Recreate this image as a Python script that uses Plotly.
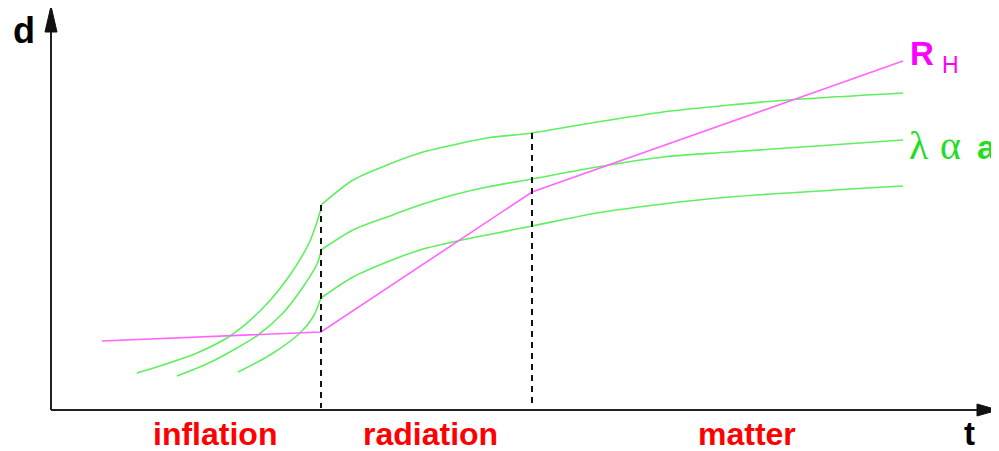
import plotly.graph_objects as go

# ---- data (in canvas units: t to the right, d on a reversed axis) ----
# inflation-era branches of the three wavelength curves
infl1_t = [137, 163, 197, 230, 263, 290, 310, 321]
infl1_d = [373, 365, 353, 336, 308, 275, 241, 209]
infl2_t = [177, 213, 258, 283, 303, 317, 321]
infl2_d = [376, 361, 335, 313, 287, 264, 252]
infl3_t = [238, 270, 300, 313, 321]
infl3_d = [372, 355, 333, 317, 298]

# radiation + matter branches
late1_t = [321, 353, 387, 420, 453, 487, 532, 597, 663, 730, 787, 903]
late1_d = [205, 180, 165, 153, 145, 138, 133, 122, 112, 105, 100, 93]
late2_t = [321, 353, 387, 420, 453, 487, 532, 597, 663, 730, 903]
late2_d = [250, 230, 217, 205, 195, 187, 179, 167, 157, 152, 140]
late3_t = [321, 353, 387, 420, 453, 487, 532, 597, 663, 730, 903]
late3_d = [298, 277, 262, 250, 242, 235, 226, 213, 204, 197, 186]

# Hubble radius
rh_t = [102, 321, 532, 903]
rh_d = [341, 332, 192, 61]

# era boundaries (t, top of dashed line)
bound_t = [321, 532]
bound_top = [205, 133]

era_labels = ["inflation", "radiation", "matter"]
era_pos = [215, 430, 747]

AXIS_X0 = 51
AXIS_Y0 = 410

GREEN = "#5ef05e"
MAGENTA = "#ff66ff"

# the page body has an 8px margin; shift the canvas so coordinates match the window
PAGE_OFF = 8
W, H = 999, 451

fig = go.Figure()

for tx, dy in [(infl1_t, infl1_d), (infl2_t, infl2_d), (infl3_t, infl3_d),
               (late1_t, late1_d), (late2_t, late2_d), (late3_t, late3_d)]:
    fig.add_trace(go.Scatter(x=tx, y=dy, mode="lines",
                             line=dict(color=GREEN, width=1.6, shape="spline", smoothing=0.8),
                             hoverinfo="skip", showlegend=False))

fig.add_trace(go.Scatter(x=rh_t, y=rh_d, mode="lines",
                         line=dict(color=MAGENTA, width=1.6),
                         hoverinfo="skip", showlegend=False))

shapes = []
for bt, top in zip(bound_t, bound_top):
    shapes.append(dict(type="line", xref="x", yref="y", x0=bt, x1=bt, y0=top, y1=AXIS_Y0 - 2,
                       line=dict(color="#111", width=2, dash="6px,5px")))
# axes
shapes.append(dict(type="line", xref="x", yref="y", x0=AXIS_X0, x1=AXIS_X0, y0=AXIS_Y0, y1=22,
                   line=dict(color="#222", width=2)))
shapes.append(dict(type="line", xref="x", yref="y", x0=AXIS_X0, x1=984, y0=AXIS_Y0, y1=AXIS_Y0,
                   line=dict(color="#222", width=2)))
# arrowheads
shapes.append(dict(type="path", xref="x", yref="y",
                   path=f"M {AXIS_X0} 6 L {AXIS_X0-6} 32 L {AXIS_X0+6} 32 Z",
                   fillcolor="#111", line=dict(color="#111", width=1)))
shapes.append(dict(type="path", xref="x", yref="y",
                   path=f"M 998 {AXIS_Y0} L 977 {AXIS_Y0-6} L 977 {AXIS_Y0+6} Z",
                   fillcolor="#111", line=dict(color="#111", width=1)))

SANS = "Liberation Sans, Arial, sans-serif"
SERIF = "Liberation Serif, Times New Roman, serif"


def label(x, y, text, size, color, family=SANS, weight="bold", xanchor="center"):
    return dict(x=x, y=y, xref="x", yref="y", text=text, showarrow=False,
                xanchor=xanchor, yanchor="middle", borderpad=0,
                font=dict(family=family, size=size, color=color, weight=weight))


ann = []
for lab, pos in zip(era_labels, era_pos):
    ann.append(label(pos, 434, lab, 32, "#ff0000"))
ann.append(label(969, 433, "t", 33, "#000"))
ann.append(label(24, 30, "d", 36, "#000"))
ann.append(label(909, 53, "R", 33, "#ff00ff", xanchor="left"))
ann.append(label(941, 65, "H", 23, "#ff00ff", weight="normal", xanchor="left"))
ann.append(label(908, 145, "λ", 40, "#22dd22", family=SERIF, weight="normal", xanchor="left"))
ann.append(label(939, 145, "α", 40, "#22dd22", family=SERIF, weight="normal", xanchor="left"))
ann.append(label(976, 147, "a", 34, "#22dd22", xanchor="left"))

fig.update_layout(
    width=W - PAGE_OFF, height=H - PAGE_OFF, autosize=False,
    margin=dict(l=0, r=0, t=0, b=0, pad=0),
    paper_bgcolor="white", plot_bgcolor="white",
    xaxis=dict(range=[PAGE_OFF, W], visible=False, fixedrange=True),
    yaxis=dict(range=[H, PAGE_OFF], visible=False, fixedrange=True),
    shapes=shapes, annotations=ann,
)

fig.write_html("out.html")
